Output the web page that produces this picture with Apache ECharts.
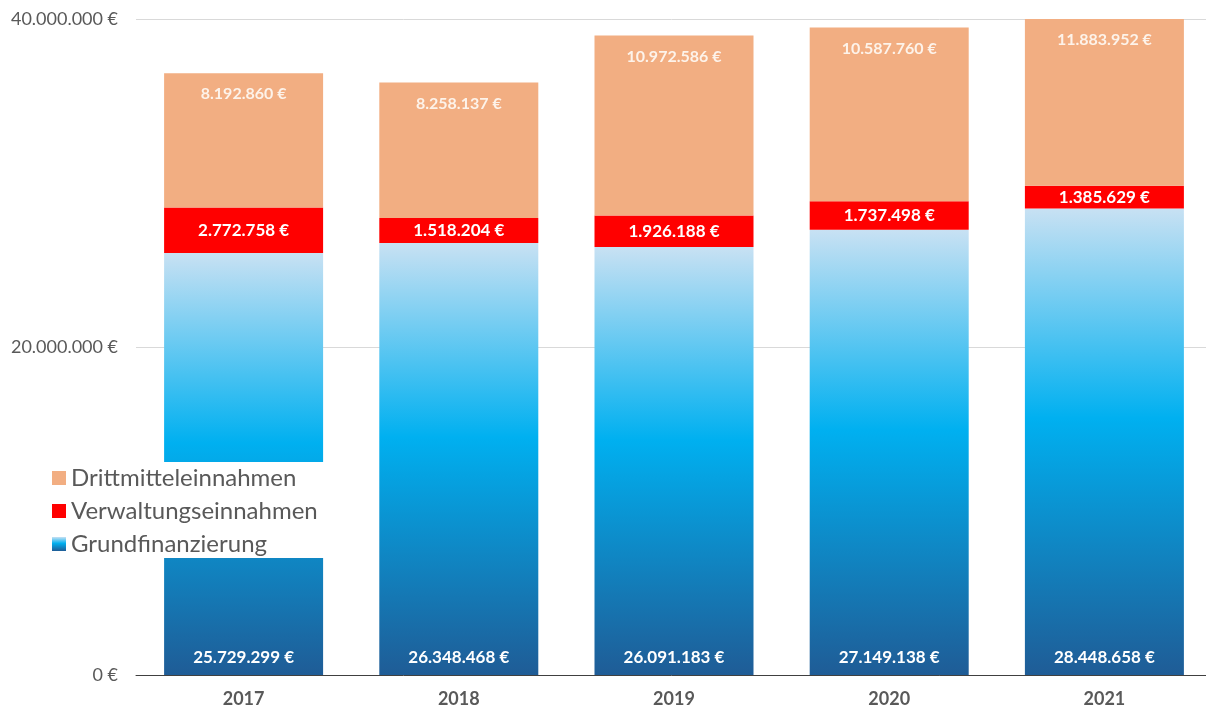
<!DOCTYPE html>
<html>
<head>
<meta charset="utf-8">
<script src="https://cdn.jsdelivr.net/npm/echarts@6/dist/echarts.min.js"></script>
<style>
html,body{margin:0;padding:0;background:#fff;}
#c{width:1206px;height:714px;}
</style>
</head>
<body>
<div id="c"></div>
<script>
const years = ['2017', '2018', '2019', '2020', '2021'];
const grundfinanzierung = [25729299, 26348468, 26091183, 27149138, 28448658];
const verwaltungseinnahmen = [2772758, 1518204, 1926188, 1737498, 1385629];
const drittmitteleinnahmen = [8192860, 8258137, 10972586, 10587760, 11883952];
const seriesNames = ['Drittmitteleinnahmen', 'Verwaltungseinnahmen', 'Grundfinanzierung'];

function fmt(v) {
  return String(Math.round(v)).replace(/\B(?=(\d{3})+(?!\d))/g, '.') + ' €';
}

const chart = echarts.init(document.getElementById('c'));
const fontFam = 'Lato, "Open Sans", sans-serif';
const grad = new echarts.graphic.LinearGradient(0, 0, 0, 1, [
  {offset: 0, color: '#c8e1f3'},
  {offset: 0.45, color: '#00b0f0'},
  {offset: 1, color: '#1f5c96'}
]);
const labelBase = {
  show: true, color: '#ffffff', fontFamily: fontFam, fontWeight: 'bold', fontSize: 17,
  formatter: p => fmt(p.value)
};

chart.setOption({
  animation: false,
  grid: {left: 136, top: 19, bottom: 39, width: 1076, containLabel: false, outerBoundsMode: 'none'},
  legend: {
    orient: 'vertical', left: 40, top: 462, z: 20,
    backgroundColor: '#ffffff', padding: [4, 16, 2, 12],
    itemWidth: 14, itemHeight: 14, itemGap: 9, icon: 'rect',
    data: seriesNames,
    textStyle: {fontFamily: fontFam, fontSize: 24, color: '#595959', lineHeight: 24}
  },
  xAxis: {
    type: 'category', data: years,
    axisLine: {lineStyle: {color: '#404040', width: 1}},
    axisTick: {show: false},
    axisLabel: {fontFamily: fontFam, fontWeight: 'bold', fontSize: 18, color: '#595959', margin: 15}
  },
  yAxis: {
    type: 'value', min: 0, max: 40000000, interval: 20000000,
    axisLine: {show: false}, axisTick: {show: false},
    splitLine: {lineStyle: {color: '#d9d9d9'}},
    axisLabel: {fontFamily: fontFam, fontSize: 18, color: '#595959', margin: 18, formatter: v => fmt(v)}
  },
  series: [
    {
      name: 'Grundfinanzierung', type: 'bar', stack: 's', barWidth: 159, data: grundfinanzierung,
      itemStyle: {color: grad},
      label: Object.assign({}, labelBase, {position: 'insideBottom', distance: 9})
    },
    {
      name: 'Verwaltungseinnahmen', type: 'bar', stack: 's', barWidth: 159, data: verwaltungseinnahmen,
      itemStyle: {color: '#ff0000'},
      label: Object.assign({}, labelBase, {position: 'inside'})
    },
    {
      name: 'Drittmitteleinnahmen', type: 'bar', stack: 's', barWidth: 159, data: drittmitteleinnahmen,
      itemStyle: {color: '#f2ae82'}, clip: true,
      label: Object.assign({}, labelBase, {position: 'insideTop', distance: 13, fontSize: 16, color: '#fdf3ea'})
    }
  ]
});
</script>
</body>
</html>
